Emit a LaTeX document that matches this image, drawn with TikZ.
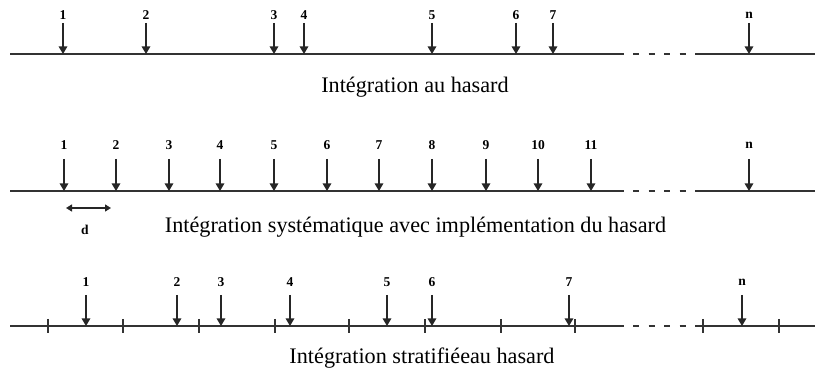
\documentclass[tikz,border=0pt]{standalone}
\usepackage{fontspec}
\setmainfont{Liberation Serif}
\usetikzlibrary{arrows.meta}
\tikzset{
  axis/.style={line width=1.4pt, draw=black!80},
  gap/.style={line width=1.4pt, draw=black!80, dash pattern=on 6pt off 9.5pt},
  arr/.style={line width=1.2pt, draw=black!85, -{Triangle[width=8.5pt,length=7.5pt]}},
  darr/.style={line width=1.3pt, draw=black!85, {Triangle[width=7pt,length=6pt]}-{Triangle[width=7pt,length=6pt]}},
  lab/.style={font=\fontsize{13.5}{15}\selectfont\bfseries, inner sep=0pt},
  ttl/.style={font=\fontsize{22.2}{26}\selectfont, inner sep=0pt},
  tck/.style={line width=1.1pt, draw=black!80}
}
\begin{document}
\begin{tikzpicture}[x=1pt,y=-1pt]
\useasboundingbox (0,0) rectangle (815,374);
% ---------- row 1 ----------
\coordinate (r1s) at (10,54); \coordinate (r1e) at (624,54);
\coordinate (r1gs) at (633,54); \coordinate (r1ge) at (686,54);
\coordinate (r1ts) at (695,54); \coordinate (r1te) at (815,54);
\draw[axis] (r1s) -- (r1e);
\draw[gap] (r1gs) -- (r1ge);
\draw[axis] (r1ts) -- (r1te);
\foreach \x/\t [count=\i] in {63/1,146/2,274/3,304/4,432/5,516/6,553/7,749/n}{
  \node[lab] (r1l\i) at (\x,15) {\t};
  \coordinate (r1a\i) at (\x,23);
  \coordinate (r1b\i) at (\x,54);
  \draw[arr] (r1a\i) -- (r1b\i);
}
\node[ttl] (t1) at (415,87) {Intégration au hasard};
% ---------- row 2 ----------
\coordinate (r2s) at (10,191); \coordinate (r2e) at (624,191);
\coordinate (r2gs) at (633,191); \coordinate (r2ge) at (686,191);
\coordinate (r2ts) at (695,191); \coordinate (r2te) at (815,191);
\draw[axis] (r2s) -- (r2e);
\draw[gap] (r2gs) -- (r2ge);
\draw[axis] (r2ts) -- (r2te);
\foreach \x/\t [count=\i] in {64/1,116/2,169/3,220/4,274/5,327/6,379/7,432/8,486/9,538/10,591/11,749/n}{
  \node[lab] (r2l\i) at (\x,145) {\t};
  \coordinate (r2a\i) at (\x,159);
  \coordinate (r2b\i) at (\x,191);
  \draw[arr] (r2a\i) -- (r2b\i);
}
\coordinate (d1) at (66,208); \coordinate (d2) at (111,208);
\draw[darr] (d1) -- (d2);
\node[lab] (dl) at (85,230) {d};
\node[ttl] (t2) at (415.5,227) {Intégration systématique avec implémentation du hasard};
% ---------- row 3 ----------
\coordinate (r3s) at (10,326); \coordinate (r3e) at (624,326);
\coordinate (r3gs) at (633,326); \coordinate (r3ge) at (686,326);
\coordinate (r3ts) at (695,326); \coordinate (r3te) at (815,326);
\draw[axis] (r3s) -- (r3e);
\draw[gap] (r3gs) -- (r3ge);
\draw[axis] (r3ts) -- (r3te);
\foreach \x [count=\i] in {48,123,199,275,349,425,501,575,703,779}{
  \coordinate (k\i a) at (\x,319);
  \coordinate (k\i b) at (\x,333);
  \draw[tck] (k\i a) -- (k\i b);
}
\foreach \x/\t [count=\i] in {86/1,177/2,221/3,290/4,387/5,432/6,569/7,742/n}{
  \node[lab] (r3l\i) at (\x,282) {\t};
  \coordinate (r3a\i) at (\x,295);
  \coordinate (r3b\i) at (\x,326);
  \draw[arr] (r3a\i) -- (r3b\i);
}
\node[ttl] (t3) at (422,358) {Intégration stratifiéeau hasard};
\end{tikzpicture}
\end{document}
